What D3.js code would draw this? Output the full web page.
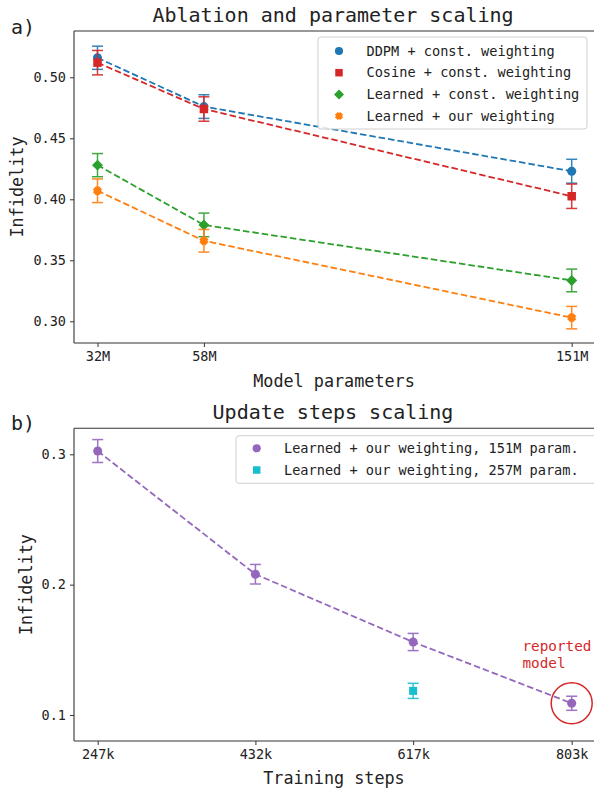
<!DOCTYPE html>
<html>
<head>
<meta charset="utf-8">
<script src="https://cdn.jsdelivr.net/npm/d3@7"></script>
<style>
  html, body { margin: 0; padding: 0; background: #fff; overflow: hidden; }
  svg { display: block; }
  text { font-family: "DejaVu Sans Mono", monospace; fill: #222; }
</style>
</head>
<body>
<div id="chart"></div>
<script>
// ---------- Data: panel a ----------
const paramValues = [32, 58.7, 151];
const paramTickLabels = ["32M", "58M", "151M"];
const seriesNames = [
  "DDPM + const. weighting",
  "Cosine + const. weighting",
  "Learned + const. weighting",
  "Learned + our weighting"
];
const ddpmValues = [0.516, 0.476, 0.423];
const ddpmErrors = [0.0095, 0.0097, 0.0098];
const cosineValues = [0.512, 0.474, 0.4025];
const cosineErrors = [0.0100, 0.0100, 0.0100];
const learnedConstValues = [0.428, 0.379, 0.3335];
const learnedConstErrors = [0.0095, 0.0097, 0.0093];
const learnedOursValues = [0.407, 0.366, 0.303];
const learnedOursErrors = [0.0097, 0.0093, 0.0092];
const yTicksA = [0.30, 0.35, 0.40, 0.45, 0.50];

// ---------- Data: panel b ----------
const stepValues = [247, 432, 617, 803];
const stepTickLabels = ["247k", "432k", "617k", "803k"];
const seriesNamesB = [
  "Learned + our weighting, 151M param.",
  "Learned + our weighting, 257M param."
];
const purpleValues = [0.3025, 0.208, 0.156, 0.109];
const purpleErrors = [0.0088, 0.0075, 0.0066, 0.0054];
const cyanSteps = [617];
const cyanValues = [0.1185];
const cyanErrors = [0.0058];
const yTicksB = [0.1, 0.2, 0.3];
const reportedStep = 803;
const reportedValue = 0.109;

// ---------- Styles ----------
const colors = {
  blue: "#1f77b4", red: "#d62728", green: "#2ca02c",
  orange: "#ff7f0e", purple: "#9467bd", cyan: "#17becf"
};

const W = 594, H = 789;
const svg = d3.select("#chart").append("svg").attr("width", W).attr("height", H);

// custom filled thick X symbol (matplotlib 'X')
const symbolXFilled = {
  draw(ctx, size) {
    const r = Math.sqrt(size) / 4.2;
    const t = 1.25;
    const pts = [[-t,-2.2],[t,-2.2],[t,-t],[2.2,-t],[2.2,t],[t,t],[t,2.2],[-t,2.2],[-t,t],[-2.2,t],[-2.2,-t],[-t,-t]];
    const a = Math.PI / 4;
    pts.forEach((p, i) => {
      const x = (p[0]*Math.cos(a) - p[1]*Math.sin(a)) * r;
      const y = (p[0]*Math.sin(a) + p[1]*Math.cos(a)) * r;
      if (i === 0) ctx.moveTo(x, y); else ctx.lineTo(x, y);
    });
    ctx.closePath();
  }
};
// square diamond (matplotlib 'D')
const symbolSquareDiamond = {
  draw(ctx, size) {
    const r = Math.sqrt(size) / Math.SQRT2;
    ctx.moveTo(0, -r); ctx.lineTo(r, 0); ctx.lineTo(0, r); ctx.lineTo(-r, 0); ctx.closePath();
  }
};

function drawAxes(g, x, y, left, right, top, bottom, xTicks, xLabels, yTicks, yFmt) {
  const xAxis = d3.axisBottom(x).tickValues(xTicks)
    .tickFormat((d, i) => xLabels[i]).tickSizeOuter(0).tickSize(4).tickPadding(4);
  const yAxis = d3.axisLeft(y).tickValues(yTicks)
    .tickFormat(d3.format(yFmt)).tickSizeOuter(0).tickSize(4).tickPadding(4);
  const gx = g.append("g").attr("transform", `translate(0,${bottom})`).call(xAxis);
  const gy = g.append("g").attr("transform", `translate(${left},0)`).call(yAxis);
  [gx, gy].forEach(a => {
    a.selectAll("text").style("font-size", "13.5px").style("font-family", '"DejaVu Sans Mono", monospace').attr("fill", "#222");
    a.selectAll("line").attr("stroke", "#333").attr("stroke-width", 1);
    a.select(".domain").remove();
  });
  // spines: left, top, bottom (right spine lies outside the picture)
  g.append("line").attr("x1", left).attr("x2", left).attr("y1", top).attr("y2", bottom).attr("stroke", "#333").attr("stroke-width", 1.1);
  g.append("line").attr("x1", left).attr("x2", right).attr("y1", bottom).attr("y2", bottom).attr("stroke", "#333").attr("stroke-width", 1.1);
  g.append("line").attr("x1", left).attr("x2", right).attr("y1", top).attr("y2", top).attr("stroke", "#333").attr("stroke-width", 1.1);
}

function drawSeries(g, x, y, xs, vals, errs, color, symbol, size, dashed) {
  const pts = xs.map((d, i) => ({x: d, v: vals[i], e: errs[i]}));
  if (dashed) {
    g.append("path").datum(pts)
      .attr("d", d3.line().x(d => x(d.x)).y(d => y(d.v)))
      .attr("fill", "none").attr("stroke", color).attr("stroke-width", 1.8)
      .attr("stroke-dasharray", "6.5,3");
  }
  const eb = g.append("g").attr("stroke", color).attr("stroke-width", 1.5).attr("opacity", 0.9);
  pts.forEach(d => {
    const cx = x(d.x);
    eb.append("line").attr("x1", cx).attr("x2", cx).attr("y1", y(d.v + d.e)).attr("y2", y(d.v - d.e));
    eb.append("line").attr("x1", cx - 5.5).attr("x2", cx + 5.5).attr("y1", y(d.v + d.e)).attr("y2", y(d.v + d.e));
    eb.append("line").attr("x1", cx - 5.5).attr("x2", cx + 5.5).attr("y1", y(d.v - d.e)).attr("y2", y(d.v - d.e));
  });
  g.append("g").selectAll("path").data(pts).join("path")
    .attr("transform", d => `translate(${x(d.x)},${y(d.v)})`)
    .attr("d", d3.symbol().type(symbol).size(size))
    .attr("fill", color);
}

function drawLegend(g, x0, y0, x1, y1, rows) {
  g.append("rect").attr("x", x0).attr("y", y0).attr("width", x1 - x0).attr("height", y1 - y0)
    .attr("rx", 3).attr("fill", "#fff").attr("fill-opacity", 0.85)
    .attr("stroke", "#d0d0d0").attr("stroke-width", 1);
  rows.forEach(r => {
    g.append("path").attr("transform", `translate(${r.mx},${r.y})`)
      .attr("d", d3.symbol().type(r.symbol).size(r.size)).attr("fill", r.color);
    g.append("text").attr("x", r.tx).attr("y", r.y).attr("dy", "0.35em")
      .style("font-size", "13.6px").text(r.label);
  });
}

// ---------- Panel a ----------
const A = {left: 74, right: 600, top: 31, bottom: 343};
const xA = d3.scaleLinear().domain([32, 151]).range([97.5, 571.7]);
const yA = d3.scaleLinear().domain([0.30, 0.50]).range([321.3, 77.3]);
const gA = svg.append("g");
drawAxes(gA, xA, yA, A.left, A.right, A.top, A.bottom, paramValues, paramTickLabels, yTicksA, ".2f");

const plotA = gA.append("g");
drawSeries(plotA, xA, yA, paramValues, ddpmValues, ddpmErrors, colors.blue, d3.symbolCircle, 64, true);
drawSeries(plotA, xA, yA, paramValues, cosineValues, cosineErrors, colors.red, d3.symbolSquare, 72, true);
drawSeries(plotA, xA, yA, paramValues, learnedConstValues, learnedConstErrors, colors.green, symbolSquareDiamond, 60, true);
drawSeries(plotA, xA, yA, paramValues, learnedOursValues, learnedOursErrors, colors.orange, symbolXFilled, 64, true);

const legA = gA.append("g");
drawLegend(legA, 318, 37, 587, 129, [
  {label: seriesNames[0], color: colors.blue, symbol: d3.symbolCircle, size: 52, mx: 339, tx: 366.5, y: 51},
  {label: seriesNames[1], color: colors.red, symbol: d3.symbolSquare, size: 56, mx: 339, tx: 366.5, y: 72.7},
  {label: seriesNames[2], color: colors.green, symbol: symbolSquareDiamond, size: 50, mx: 339, tx: 366.5, y: 94.4},
  {label: seriesNames[3], color: colors.orange, symbol: symbolXFilled, size: 50, mx: 339, tx: 366.5, y: 116}
]);

gA.append("text").attr("x", 333).attr("y", 15).attr("dy", "0.35em").attr("text-anchor", "middle")
  .style("font-size", "20px").text("Ablation and parameter scaling");
gA.append("text").attr("x", 11).attr("y", 27).attr("dy", "0.35em")
  .style("font-size", "20px").text("a)");
gA.append("text").attr("x", 334).attr("y", 381).attr("dy", "0.35em").attr("text-anchor", "middle")
  .style("font-size", "16.8px").text("Model parameters");
gA.append("text").attr("transform", `translate(17,${(A.top + A.bottom) / 2}) rotate(-90)`)
  .attr("dy", "0.35em").attr("text-anchor", "middle")
  .style("font-size", "16.8px").text("Infidelity");

// ---------- Panel b ----------
const B = {left: 74, right: 600, top: 428.3, bottom: 741};
const xB = d3.scaleLinear().domain([247, 803]).range([97.7, 571.7]);
const yB = d3.scaleLinear().domain([0.1, 0.3]).range([715, 454.3]);
const gB = svg.append("g");
drawAxes(gB, xB, yB, B.left, B.right, B.top, B.bottom, stepValues, stepTickLabels, yTicksB, ".1f");
const plotB = gB.append("g");
drawSeries(plotB, xB, yB, stepValues, purpleValues, purpleErrors, colors.purple, d3.symbolCircle, 64, true);
drawSeries(plotB, xB, yB, cyanSteps, cyanValues, cyanErrors, colors.cyan, d3.symbolSquare, 64, false);

// annotation
gB.append("circle").attr("cx", xB(reportedStep)).attr("cy", yB(reportedValue)).attr("r", 20.5)
  .attr("fill", "none").attr("stroke", colors.red).attr("stroke-width", 1.5);
const ann = gB.append("text").attr("x", 522.5).attr("y", 646).style("font-size", "14.3px");
ann.append("tspan").attr("x", 522.5).attr("dy", "0.35em").style("fill", colors.red).text("reported");
ann.append("tspan").attr("x", 522.5).attr("dy", "1.17em").style("fill", colors.red).text("model");

const legB = gB.append("g");
drawLegend(legB, 236, 435.7, 597, 483.3, [
  {label: seriesNamesB[0], color: colors.purple, symbol: d3.symbolCircle, size: 52, mx: 256.7, tx: 284, y: 448.3},
  {label: seriesNamesB[1], color: colors.cyan, symbol: d3.symbolSquare, size: 56, mx: 256.7, tx: 284, y: 470}
]);

gB.append("text").attr("x", 333).attr("y", 412).attr("dy", "0.35em").attr("text-anchor", "middle")
  .style("font-size", "20px").text("Update steps scaling");
gB.append("text").attr("x", 11).attr("y", 423).attr("dy", "0.35em")
  .style("font-size", "20px").text("b)");
gB.append("text").attr("x", 334).attr("y", 778).attr("dy", "0.35em").attr("text-anchor", "middle")
  .style("font-size", "16.8px").text("Training steps");
gB.append("text").attr("transform", `translate(26,${(B.top + B.bottom) / 2}) rotate(-90)`)
  .attr("dy", "0.35em").attr("text-anchor", "middle")
  .style("font-size", "16.8px").text("Infidelity");
</script>
</body>
</html>
